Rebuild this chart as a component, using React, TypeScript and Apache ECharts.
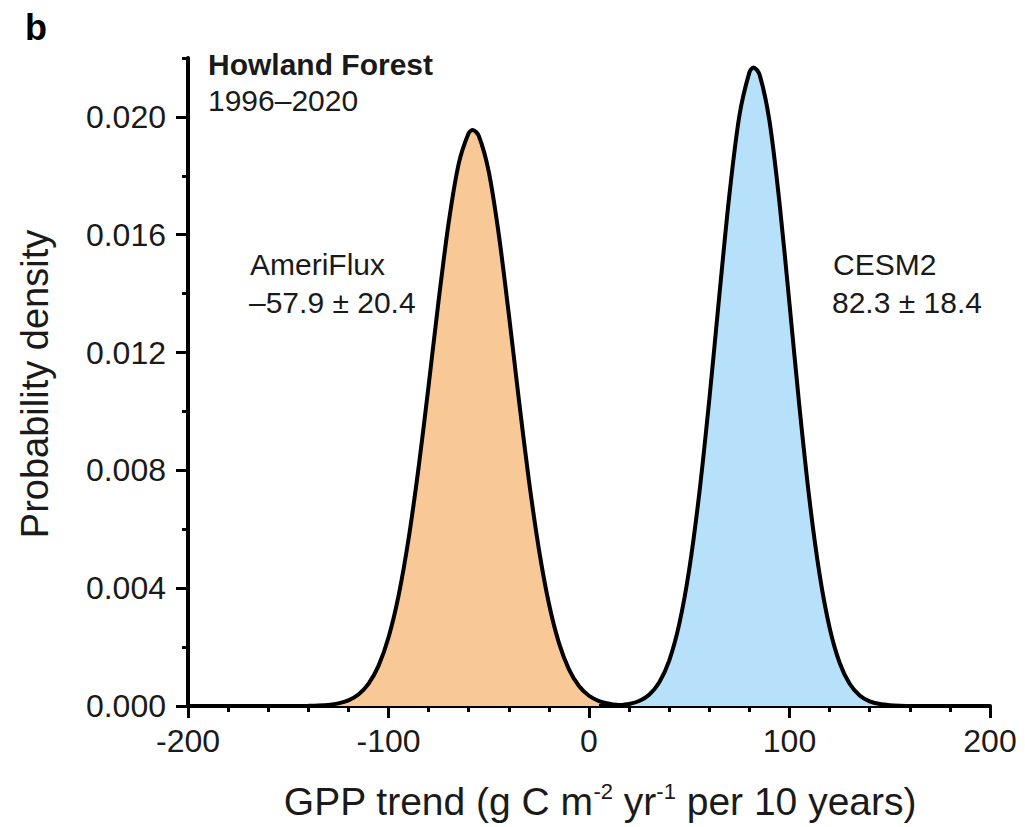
import React, { useEffect, useRef } from "react";
import * as echarts from "echarts";

// Probability density of the GPP trend, sampled every 5 units
const ameriX = [
  -200, -195, -190, -185, -180, -175, -170, -165, -160, -155, -150, -145, -140, -135, -130,
  -125, -120, -115, -110, -105, -100, -95, -90, -85, -80, -75, -70, -65, -60, -58, -55, -50,
  -45, -40, -35, -30, -25, -20, -15, -10, -5, 0, 5, 10, 15, 20, 25,
];
const ameriDensity = [
  0, 0, 0, 0, 0, 0, 0, 0, 0, 0.0000002, 0.0000007, 0.0000021, 0.0000059, 0.0000155, 0.0000379,
  0.0000876, 0.00019, 0.000389, 0.00075, 0.001361, 0.002326, 0.003742, 0.005671, 0.008093,
  0.010875, 0.013764, 0.016402, 0.018406, 0.019453, 0.019556, 0.019359, 0.018142, 0.016011,
  0.013308, 0.010416, 0.007676, 0.005328, 0.003481, 0.002143, 0.001242, 0.000678, 0.000348,
  0.000169, 0.000077, 0.000033, 0.000013, 0.000005,
];

const cesmX = [
  5, 10, 15, 20, 25, 30, 35, 40, 45, 50, 55, 60, 65, 70, 75, 80, 82, 85, 90, 95, 100, 105, 110,
  115, 120, 125, 130, 135, 140, 145, 150, 155, 160, 165, 170, 175, 180, 185, 190, 195, 200,
];
const cesmDensity = [
  0.0000032, 0.0000096, 0.000027, 0.00007, 0.00017, 0.000382, 0.000797, 0.001543, 0.002778,
  0.004644, 0.007214, 0.010403, 0.013935, 0.017341, 0.020041, 0.021513, 0.021679, 0.02145,
  0.019865, 0.017088, 0.013651, 0.01013, 0.006982, 0.004469, 0.002658, 0.001468, 0.000753,
  0.000359, 0.000159, 0.000065, 0.000025, 0.0000088, 0.0000029, 0.0000009, 0, 0, 0, 0, 0, 0, 0,
];

// Axis ticks
const xMajorTicks = [-200, -100, 0, 100, 200];
const xMinorTicks = [-180, -160, -140, -120, -80, -60, -40, -20, 20, 40, 60, 80, 120, 140, 160, 180];
const yMajorTicks = [0, 0.004, 0.008, 0.012, 0.016, 0.02];
const yMinorTicks = [0.002, 0.006, 0.01, 0.014, 0.018, 0.022];

// Annotation texts
const panelLetter = "b";
const siteName = "Howland Forest";
const sitePeriod = "1996–2020";
const ameriLabel = ["AmeriFlux", "–57.9 ± 20.4"];
const cesmLabel = ["CESM2", "82.3 ± 18.4"];

const FONT = "'Liberation Sans', Arial, Helvetica, sans-serif";
const TEXT = "#1a1a1a";
const ORANGE = "#F9C897";
const BLUE = "#B7E1FA";

const toPairs = (xs: number[], ys: number[]) => xs.map((x, i) => [x, ys[i]]);

export default function App() {
  const ref = useRef<HTMLDivElement>(null);

  useEffect(() => {
    if (!ref.current) return;
    const chart = echarts.init(ref.current, null, { renderer: "svg" });

    const tickLabel = { fontSize: 32, color: TEXT, fontFamily: FONT };
    const plainText = (text: string, x: number, y: number, extra: any = {}) => ({
      type: "text",
      x,
      y,
      style: {
        text,
        fontSize: 30,
        fontFamily: FONT,
        fill: TEXT,
        align: "left",
        verticalAlign: "middle",
        ...extra,
      },
    });

    chart.setOption({
      animation: false,
      backgroundColor: "#fff",
      grid: { left: 188, right: 35, top: 58, bottom: 121 },
      xAxis: [
        {
          type: "value",
          min: -200,
          max: 200,
          interval: 100,
          axisLine: { show: true, onZero: false, lineStyle: { color: "#000", width: 4 } },
          axisTick: {
            show: true,
            length: 12,
            customValues: xMajorTicks,
            lineStyle: { color: "#000", width: 3 },
          },
          axisLabel: { ...tickLabel, margin: 19, customValues: xMajorTicks },
          splitLine: { show: false },
        },
        {
          type: "value",
          position: "bottom",
          min: -200,
          max: 200,
          axisLine: { show: false, onZero: false },
          axisTick: {
            show: true,
            length: 6,
            customValues: xMinorTicks,
            lineStyle: { color: "#000", width: 3 },
          },
          axisLabel: { show: false },
          splitLine: { show: false },
        },
      ],
      yAxis: [
        {
          type: "value",
          min: 0,
          max: 0.022,
          axisLine: { show: true, onZero: false, lineStyle: { color: "#000", width: 4 } },
          axisTick: {
            show: true,
            length: 12,
            customValues: yMajorTicks,
            lineStyle: { color: "#000", width: 3 },
          },
          axisLabel: {
            ...tickLabel,
            margin: 22,
            customValues: yMajorTicks,
            formatter: (v: number) => v.toFixed(3),
          },
          splitLine: { show: false },
        },
        {
          type: "value",
          position: "left",
          min: 0,
          max: 0.022,
          axisLine: { show: false, onZero: false },
          axisTick: {
            show: true,
            length: 6,
            customValues: yMinorTicks,
            lineStyle: { color: "#000", width: 3 },
          },
          axisLabel: { show: false },
          splitLine: { show: false },
        },
      ],
      series: [
        {
          name: "AmeriFlux",
          type: "line",
          xAxisIndex: 0,
          yAxisIndex: 0,
          data: toPairs(ameriX, ameriDensity),
          smooth: 0.3,
          showSymbol: false,
          symbol: "none",
          lineStyle: { color: "#000", width: 4 },
          areaStyle: { color: ORANGE, opacity: 1 },
          z: 2,
        },
        {
          name: "CESM2",
          type: "line",
          xAxisIndex: 0,
          yAxisIndex: 0,
          data: toPairs(cesmX, cesmDensity),
          smooth: 0.3,
          showSymbol: false,
          symbol: "none",
          lineStyle: { color: "#000", width: 4 },
          areaStyle: { color: BLUE, opacity: 1 },
          z: 3,
        },
      ],
      graphic: [
        plainText(panelLetter, 25, 27, { fontSize: 36, fontWeight: "bold", fill: "#000" }),
        plainText(siteName, 208, 64, { fontWeight: "bold" }),
        plainText(sitePeriod, 208, 100),
        plainText(ameriLabel[0], 250, 264),
        plainText(ameriLabel[1], 249, 302),
        plainText(cesmLabel[0], 833, 264),
        plainText(cesmLabel[1], 832, 302),
        {
          type: "text",
          x: 35,
          y: 384,
          rotation: Math.PI / 2,
          style: {
            text: "Probability density",
            fontSize: 38,
            fontFamily: FONT,
            fill: TEXT,
            align: "center",
            verticalAlign: "middle",
          },
        },
        {
          type: "text",
          x: 600,
          y: 801,
          style: {
            text: "{n|GPP trend (g C m}{s|-2}{n| yr}{s|-1}{n| per 10 years)}",
            fontSize: 39,
            fontFamily: FONT,
            fill: TEXT,
            align: "center",
            verticalAlign: "middle",
            rich: {
              n: { fontSize: 39, fontFamily: FONT, fill: TEXT, lineHeight: 42 },
              s: {
                fontSize: 22,
                fontFamily: FONT,
                fill: TEXT,
                lineHeight: 23,
                verticalAlign: "top",
              },
            },
          },
        },
      ],
    });

    return () => chart.dispose();
  }, []);

  return (
    <div
      ref={ref}
      style={{ position: "fixed", left: 0, top: 0, width: 1025, height: 827, background: "#fff" }}
    />
  );
}
